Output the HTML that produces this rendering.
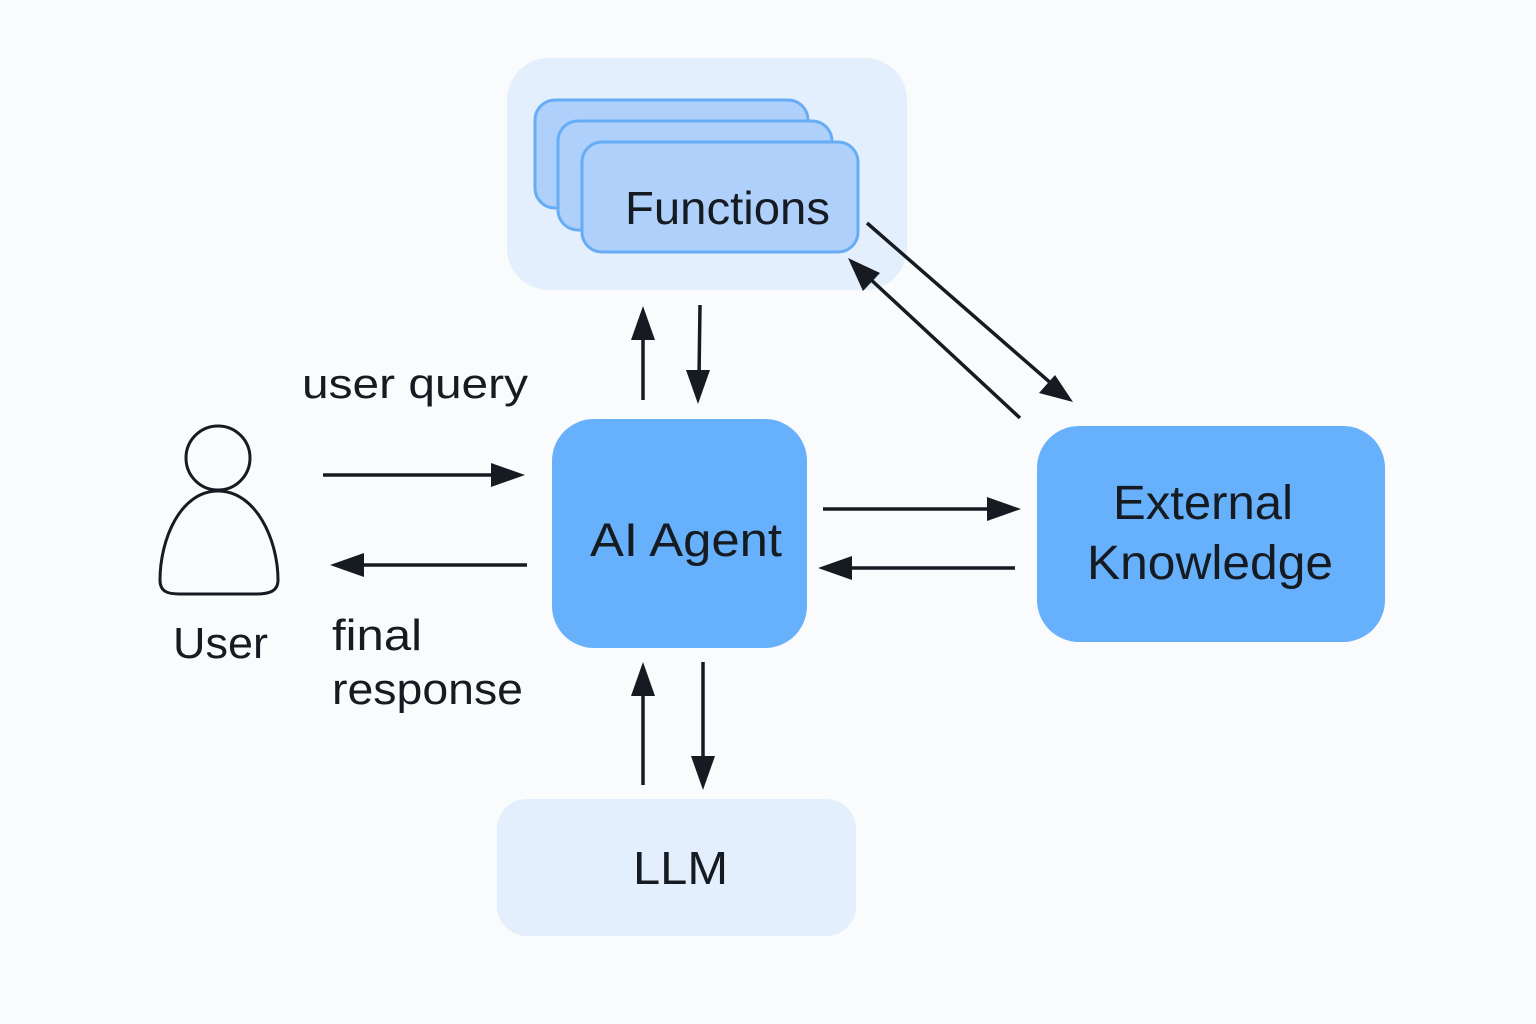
<!DOCTYPE html>
<html><head><meta charset="utf-8"><style>
html,body{margin:0;padding:0;background:#fafbfc;}
svg{display:block;}
text{font-family:"Liberation Sans",sans-serif;fill:#161b22;}
</style></head><body>
<svg width="1536" height="1024" viewBox="0 0 1536 1024">
<defs>
<marker id="ah" markerWidth="10" markerHeight="8" refX="9" refY="4" orient="auto" markerUnits="userSpaceOnUse" viewBox="0 0 10 8">
</marker>
</defs>
<rect x="0" y="0" width="1536" height="1024" fill="#fafbfc"/>
<rect x="507" y="58" width="400" height="232" rx="42" fill="#e3effd"/>
<rect x="535" y="100" width="273" height="108" rx="20" fill="#aed0fb" stroke="#66adf6" stroke-width="3"/>
<rect x="558" y="121" width="274" height="109" rx="20" fill="#aed0fb" stroke="#66adf6" stroke-width="3"/>
<rect x="582" y="142" width="276" height="110" rx="20" fill="#aed0fb" stroke="#66adf6" stroke-width="3"/>
<text x="625" y="224" font-size="46" textLength="205" lengthAdjust="spacingAndGlyphs">Functions</text>

<rect x="552" y="419" width="255" height="229" rx="42" fill="#66b0fc"/>
<text x="590" y="556" font-size="47" textLength="192" lengthAdjust="spacingAndGlyphs">AI Agent</text>

<rect x="1037" y="426" width="348" height="216" rx="42" fill="#66b0fc"/>
<text x="1113" y="519" font-size="48" textLength="180" lengthAdjust="spacingAndGlyphs">External</text>
<text x="1087" y="579" font-size="48" textLength="246" lengthAdjust="spacingAndGlyphs">Knowledge</text>

<rect x="497" y="799" width="359" height="137" rx="30" fill="#e3effd"/>
<text x="633" y="884" font-size="46" textLength="95" lengthAdjust="spacingAndGlyphs">LLM</text>

<circle cx="218" cy="458" r="32" fill="none" stroke="#161b22" stroke-width="3"/>
<path d="M218 491 C 180 491 160 540 160 580 C 160 592 168 594 180 594 L 256 594 C 268 594 278 592 278 580 C 278 540 256 491 218 491 Z" fill="none" stroke="#161b22" stroke-width="3"/>
<text x="173" y="658" font-size="44" textLength="95" lengthAdjust="spacingAndGlyphs">User</text>

<text x="302" y="398" font-size="42" textLength="226" lengthAdjust="spacingAndGlyphs">user query</text>
<text x="332" y="650" font-size="44" textLength="90" lengthAdjust="spacingAndGlyphs">final</text>
<text x="332" y="704" font-size="44" textLength="191" lengthAdjust="spacingAndGlyphs">response</text>

<g stroke="#161b22" stroke-width="3.5" fill="#161b22">
<!-- user query -->
<line x1="323" y1="475" x2="500" y2="475"/>
<polygon points="525,475 491,463 491,487" stroke="none"/>
<!-- final response -->
<line x1="527" y1="565" x2="355" y2="565"/>
<polygon points="330,565 364,553 364,577" stroke="none"/>
<!-- agent to EK -->
<line x1="823" y1="509" x2="996" y2="509"/>
<polygon points="1021,509 987,497 987,521" stroke="none"/>
<!-- EK to agent -->
<line x1="1015" y1="568" x2="843" y2="568"/>
<polygon points="818,568 852,556 852,580" stroke="none"/>
<!-- up to functions -->
<line x1="643" y1="400" x2="643" y2="330"/>
<polygon points="643,306 631,340 655,340" stroke="none"/>
<!-- down from functions -->
<line x1="700" y1="305" x2="699" y2="378"/>
<polygon points="698,404 686,370 710,370" stroke="none"/>
<!-- up from LLM -->
<line x1="643" y1="785" x2="643" y2="688"/>
<polygon points="643,662 631,696 655,696" stroke="none"/>
<!-- down to LLM -->
<line x1="703" y1="662" x2="703" y2="765"/>
<polygon points="703,790 691,756 715,756" stroke="none"/>
<!-- functions to EK -->
<line x1="867" y1="223" x2="1053" y2="385"/>
<polygon points="1073,402 1039,393 1055,375" stroke="none"/>
<!-- EK to functions -->
<line x1="1020" y1="418" x2="867" y2="276"/>
<polygon points="848,258 863,291 880,273" stroke="none"/>
</g>
</svg>
</body></html>
